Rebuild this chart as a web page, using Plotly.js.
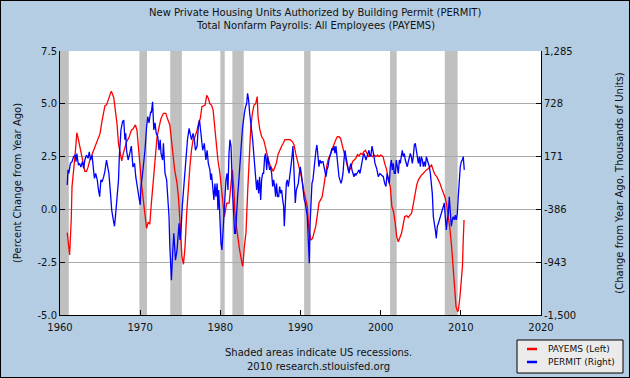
<!DOCTYPE html>
<html>
<head>
<meta charset="utf-8">
<script src="https://cdn.plot.ly/plotly-3.0.1.min.js"></script>
<style>
  html, body { margin: 0; padding: 0; background: #b4cde3; }
  #wrap { position: relative; width: 630px; height: 378px; }
  #chart { width: 630px; height: 378px; }
  #frame { position: absolute; left: 0; top: 0; width: 630px; height: 378px; box-sizing: border-box; border: 1px solid #000; pointer-events: none; }
</style>
</head>
<body>
<div id="wrap"><div id="chart"></div><div id="frame"></div></div>
<script>
// ---- Data ----
const payemsName = "PAYEMS (Left)";
const permitName = "PERMIT (Right)";

const payemsYears = [1960.9,1961.0,1961.2,1961.4,1961.5,1961.9,1962.1,1962.3,1962.5,1962.7,1962.9,1963.1,1963.3,1963.5,1963.7,1964.0,1964.4,1964.7,1965.0,1965.2,1965.4,1965.6,1965.8,1966.0,1966.2,1966.4,1966.7,1966.9,1967.1,1967.3,1967.5,1967.7,1967.9,1968.1,1968.3,1968.6,1968.9,1969.1,1969.4,1969.6,1969.8,1970.0,1970.2,1970.4,1970.6,1970.8,1971.0,1971.2,1971.4,1971.6,1971.9,1972.1,1972.3,1972.6,1972.9,1973.2,1973.4,1973.7,1973.9,1974.1,1974.3,1974.6,1974.8,1975.0,1975.2,1975.4,1975.6,1975.8,1976.0,1976.2,1976.4,1976.6,1976.8,1977.1,1977.3,1977.5,1977.7,1977.9,1978.1,1978.3,1978.5,1978.7,1978.9,1979.1,1979.3,1979.5,1979.7,1979.95,1980.2,1980.4,1980.5,1980.66,1980.8,1981.1,1981.3,1981.5,1981.7,1981.8,1982.0,1982.2,1982.4,1982.7,1982.8,1983.0,1983.2,1983.4,1983.6,1983.8,1984.0,1984.2,1984.4,1984.6,1984.7,1984.9,1985.15,1985.4,1985.6,1985.8,1986.0,1986.2,1986.4,1986.6,1986.8,1987.0,1987.2,1987.4,1987.65,1987.85,1988.05,1988.4,1988.7,1989.0,1989.2,1989.4,1989.6,1989.8,1990.06,1990.2,1990.4,1990.6,1990.85,1991.05,1991.3,1991.5,1991.7,1991.9,1992.1,1992.3,1992.5,1992.7,1992.9,1993.1,1993.3,1993.5,1993.8,1994.0,1994.2,1994.4,1994.6,1994.8,1995.0,1995.2,1995.4,1995.6,1995.8,1996.0,1996.25,1996.5,1996.7,1996.9,1997.1,1997.3,1997.5,1997.7,1997.9,1998.1,1998.3,1998.5,1998.75,1998.95,1999.2,1999.4,1999.6,1999.8,2000.0,2000.3,2000.5,2000.75,2000.95,2001.2,2001.4,2001.6,2001.8,2002.0,2002.2,2002.4,2002.6,2002.8,2003.0,2003.25,2003.45,2003.65,2003.85,2004.05,2004.3,2004.5,2004.7,2004.9,2005.1,2005.3,2005.5,2005.7,2005.95,2006.15,2006.35,2006.6,2006.8,2007.0,2007.2,2007.4,2007.6,2007.8,2008.0,2008.2,2008.4,2008.6,2008.85,2009.05,2009.3,2009.4,2009.6,2009.7,2009.9,2010.0,2010.2,2010.3,2010.4];
const payemsValues = [-1.1,-1.6,-2.16,-0.5,1.08,2.65,3.63,3.3,2.9,2.5,2.2,1.8,1.8,2.0,2.3,2.6,3.0,3.3,3.6,4.1,4.5,4.9,4.95,5.2,5.4,5.6,5.3,4.8,4.1,3.1,2.65,2.3,2.65,3.0,3.2,3.4,3.75,3.8,4.0,3.75,3.0,2.0,1.08,0.3,-0.2,-0.9,-0.6,-0.7,0.3,1.23,2.34,3.4,3.8,4.3,4.55,4.55,4.3,4.0,3.3,2.65,1.87,1.23,0.45,-0.8,-2.2,-2.6,-1.76,-0.2,1.08,2.0,2.8,3.3,3.4,3.75,4.1,4.3,4.86,4.9,4.94,5.4,5.26,5.0,4.94,4.7,3.8,3.3,2.34,1.7,0.76,-0.04,-0.35,0.0,0.3,0.3,1.23,1.87,0.9,-0.04,-0.8,-1.45,-1.9,-2.55,-2.7,-1.76,-1.1,0.76,2.5,3.9,4.55,4.94,5.0,5.34,4.4,3.84,3.44,3.3,3.0,2.6,2.34,2.1,1.94,1.8,2.0,2.2,2.6,2.8,3.0,3.13,3.3,3.3,3.3,3.2,3.05,2.65,2.34,2.0,1.7,1.4,0.9,0.6,0.13,-0.98,-1.45,-1.37,-1.13,-0.8,-0.27,0.3,0.45,0.6,1.08,1.7,2.1,2.42,2.65,2.9,3.13,3.3,3.44,3.44,3.36,3.05,2.65,2.34,2.1,1.8,1.94,2.26,2.34,2.42,2.6,2.53,2.65,2.6,2.73,2.8,2.65,2.5,2.57,2.5,2.57,2.5,2.57,2.5,2.57,2.5,2.18,1.87,1.4,1.08,0.13,-0.1,-0.6,-1.3,-1.53,-1.37,-1.13,-0.74,-0.34,-0.3,-0.38,-0.27,-0.19,0.2,0.76,1.16,1.4,1.55,1.63,1.7,1.8,1.87,1.94,2.0,2.1,1.8,1.63,1.55,1.4,1.23,1.0,0.84,0.6,0.3,-0.19,-0.8,-1.76,-2.7,-3.97,-4.6,-4.84,-4.76,-4.1,-3.66,-2.7,-1.45,-0.5];

const permitYears = [1960.9,1961.0,1961.1,1961.3,1961.5,1961.7,1961.9,1962.0,1962.1,1962.3,1962.45,1962.6,1962.8,1962.95,1963.1,1963.3,1963.5,1963.65,1963.8,1964.0,1964.2,1964.3,1964.45,1964.65,1964.8,1964.95,1965.1,1965.25,1965.45,1965.6,1965.8,1966.0,1966.1,1966.3,1966.45,1966.65,1966.8,1966.95,1967.1,1967.3,1967.4,1967.6,1967.8,1967.95,1968.1,1968.2,1968.3,1968.5,1968.7,1968.9,1969.1,1969.3,1969.45,1969.6,1969.8,1970.0,1970.1,1970.3,1970.45,1970.6,1970.8,1970.95,1971.1,1971.3,1971.4,1971.55,1971.7,1971.85,1972.0,1972.2,1972.35,1972.5,1972.6,1972.8,1972.9,1973.1,1973.3,1973.45,1973.6,1973.7,1973.85,1973.9,1974.05,1974.2,1974.3,1974.4,1974.6,1974.7,1974.85,1974.97,1975.1,1975.25,1975.4,1975.6,1975.75,1975.9,1976.1,1976.25,1976.4,1976.6,1976.75,1976.9,1977.1,1977.25,1977.4,1977.55,1977.7,1977.8,1978.0,1978.2,1978.35,1978.5,1978.7,1978.8,1978.9,1979.1,1979.2,1979.33,1979.45,1979.6,1979.7,1979.8,1979.95,1980.08,1980.2,1980.33,1980.45,1980.58,1980.7,1980.83,1980.95,1981.08,1981.2,1981.33,1981.4,1981.53,1981.66,1981.78,1981.9,1982.0,1982.15,1982.28,1982.4,1982.53,1982.66,1982.78,1982.9,1983.03,1983.15,1983.28,1983.4,1983.53,1983.66,1983.78,1983.9,1984.03,1984.15,1984.28,1984.4,1984.53,1984.65,1984.78,1984.9,1985.03,1985.15,1985.28,1985.4,1985.53,1985.65,1985.78,1985.9,1986.0,1986.15,1986.28,1986.4,1986.53,1986.65,1986.78,1986.9,1987.0,1987.15,1987.28,1987.4,1987.53,1987.65,1987.78,1987.9,1987.98,1988.1,1988.23,1988.35,1988.48,1988.6,1988.73,1988.85,1988.98,1989.06,1989.15,1989.23,1989.35,1989.48,1989.6,1989.73,1989.85,1989.97,1990.1,1990.22,1990.35,1990.47,1990.6,1990.72,1990.85,1990.97,1991.1,1991.18,1991.3,1991.43,1991.55,1991.68,1991.8,1991.93,1992.05,1992.18,1992.3,1992.43,1992.55,1992.68,1992.8,1992.93,1993.05,1993.18,1993.3,1993.43,1993.55,1993.68,1993.8,1993.93,1994.05,1994.18,1994.3,1994.42,1994.55,1994.68,1994.8,1994.92,1995.05,1995.17,1995.3,1995.42,1995.55,1995.67,1995.8,1995.92,1996.05,1996.17,1996.3,1996.42,1996.55,1996.67,1996.8,1996.92,1997.05,1997.17,1997.3,1997.42,1997.55,1997.67,1997.8,1997.92,1998.04,1998.17,1998.29,1998.42,1998.54,1998.67,1998.79,1998.92,1999.04,1999.17,1999.29,1999.5,1999.7,1999.9,2000.1,2000.33,2000.5,2000.66,2000.8,2000.95,2001.08,2001.2,2001.33,2001.45,2001.58,2001.7,2001.83,2001.95,2002.07,2002.2,2002.33,2002.45,2002.57,2002.7,2002.82,2002.95,2003.07,2003.2,2003.32,2003.45,2003.57,2003.7,2003.82,2003.95,2004.07,2004.2,2004.32,2004.45,2004.57,2004.7,2004.82,2004.95,2005.07,2005.2,2005.32,2005.45,2005.57,2005.7,2005.82,2005.94,2006.07,2006.2,2006.32,2006.44,2006.57,2006.69,2006.82,2006.94,2007.07,2007.2,2007.32,2007.44,2007.57,2007.7,2007.8,2007.94,2008.06,2008.19,2008.31,2008.44,2008.56,2008.69,2008.81,2008.94,2009.06,2009.19,2009.31,2009.43,2009.56,2009.68,2009.81,2009.93,2010.06,2010.18,2010.3,2010.4,2010.43];
const permitValues = [-128,31,-7,100,118,171,187,118,204,82,100,60,118,46,135,187,153,222,135,187,15,-58,-7,-74,-181,-252,-74,-96,-41,15,135,31,-7,-217,-393,-497,-564,-428,-304,-74,171,452,539,556,349,416,238,135,204,282,60,100,-41,-145,-234,-339,-145,-7,100,238,483,594,527,639,639,750,452,527,416,380,238,349,204,135,311,-7,-74,-286,-462,-778,-1025,-1132,-849,-638,-778,-921,-814,-709,-533,-709,-604,-357,-181,-7,204,349,470,416,349,416,349,238,282,483,556,438,349,238,311,135,238,100,31,-74,-7,-181,-286,-112,-252,-112,-393,-181,-564,-742,-814,-638,-393,-217,-74,-7,-181,204,349,282,-7,-217,-428,-638,-638,-428,-252,-112,64,238,349,483,594,646,697,728,839,768,628,556,452,349,238,135,-7,-181,-74,-217,-41,-286,-74,-7,-7,171,204,31,171,100,31,64,-7,-145,-74,-145,-252,-112,-252,-252,-145,-217,-181,-286,-357,-564,-217,-112,-74,-145,-74,-7,100,204,282,100,-112,-319,-181,-145,-112,-7,64,-7,-112,-217,-286,-319,-393,-462,-709,-954,-564,-252,-112,-74,64,135,238,294,171,64,135,100,118,118,64,-7,-41,31,64,135,171,204,260,238,282,204,282,171,31,-41,-74,-112,-74,-7,135,238,171,100,64,-7,64,100,31,-7,-41,-7,-23,-7,15,31,-7,64,135,171,204,171,135,171,204,238,171,187,282,238,171,100,46,-41,-7,-23,-41,-112,-145,-7,-74,-112,64,135,31,100,-7,-7,135,64,-7,135,100,171,238,171,204,135,100,64,118,171,204,171,100,171,294,311,238,171,100,171,64,171,135,64,118,64,171,135,100,64,-7,-112,-217,-462,-564,-604,-691,-564,-533,-497,-462,-428,-393,-357,-319,-462,-604,-497,-428,-252,-462,-564,-497,-462,-497,-446,-497,-428,-252,-74,64,118,135,171,64,31];

const recessionStarts = [1960.0, 1969.9, 1973.75, 1980.0, 1981.5, 1990.45, 2001.17, 2008.0];
const recessionEnds   = [1961.1, 1970.85, 1975.2, 1980.55, 1982.92, 1991.25, 2002.0, 2009.6];

const xTickVals = [1960, 1970, 1980, 1990, 2000, 2010, 2020];
const leftTickVals = [-5, -2.5, 0, 2.5, 5, 7.5];
const leftTickText = ["-5.0", "-2.5", "0.0", "2.5", "5.0", "7.5"];
const rightTickVals = [-1500, -943, -386, 171, 728, 1285];
const rightTickText = ["-1,500", "-943", "-386", "171", "728", "1,285"];

const titleLines = ["New Private Housing Units Authorized by Building Permit (PERMIT)", "Total Nonfarm Payrolls: All Employees (PAYEMS)"];
const noteLines = ["Shaded areas indicate US recessions.", "2010 research.stlouisfed.org"];

// ---- Chart ----
const FONT = "DejaVu Sans, Verdana, sans-serif";
const TXT = "#111111";

const traces = [
  { x: payemsYears, y: payemsValues, name: payemsName, type: "scatter", mode: "lines",
    line: { color: "#ff0000", width: 1.3 }, yaxis: "y", showlegend: false, hoverinfo: "skip" },
  { x: permitYears, y: permitValues, name: permitName, type: "scatter", mode: "lines",
    line: { color: "#0000ff", width: 1.3 }, yaxis: "y2", showlegend: false, hoverinfo: "skip" }
];

const shapes = recessionStarts.map((s, i) => ({
  type: "rect", xref: "x", yref: "paper", x0: s, x1: recessionEnds[i], y0: 0, y1: 1,
  fillcolor: "#c0c0c0", line: { width: 0 }, layer: "between"
}));

// custom legend box (paper coords relative to plot area 60..541 x 51..315)
const PW = 481, PH = 264, L0 = 60, T0 = 51;
const px = v => (v - L0) / PW;
const py = v => (T0 + PH - v) / PH;
shapes.push({ type: "rect", xref: "paper", yref: "paper", x0: px(517), x1: px(623), y0: py(340), y1: py(373),
  fillcolor: "#ebebeb", line: { color: "#000", width: 1 }, layer: "above" });
shapes.push({ type: "line", xref: "paper", yref: "paper", x0: px(527), x1: px(537), y0: py(349), y1: py(349),
  line: { color: "#ff0000", width: 2.5 }, layer: "above" });
shapes.push({ type: "line", xref: "paper", yref: "paper", x0: px(527), x1: px(537), y0: py(362), y1: py(362),
  line: { color: "#0000ff", width: 2.5 }, layer: "above" });

const annotations = [
  { text: titleLines[0], xref: "paper", yref: "paper", x: px(315), y: py(12), showarrow: false,
    font: { family: FONT, size: 10, color: TXT }, xanchor: "center", yanchor: "middle" },
  { text: titleLines[1], xref: "paper", yref: "paper", x: px(315), y: py(25), showarrow: false,
    font: { family: FONT, size: 10, color: TXT }, xanchor: "center", yanchor: "middle" },
  { text: noteLines[0], xref: "paper", yref: "paper", x: px(318), y: py(352), showarrow: false,
    font: { family: FONT, size: 10, color: TXT }, xanchor: "center", yanchor: "middle" },
  { text: noteLines[1], xref: "paper", yref: "paper", x: px(318), y: py(366), showarrow: false,
    font: { family: FONT, size: 10, color: TXT }, xanchor: "center", yanchor: "middle" },
  { text: payemsName, xref: "paper", yref: "paper", x: px(546), y: py(349), showarrow: false,
    font: { family: FONT, size: 9, color: TXT }, xanchor: "left", yanchor: "middle" },
  { text: permitName, xref: "paper", yref: "paper", x: px(546), y: py(362), showarrow: false,
    font: { family: FONT, size: 9, color: TXT }, xanchor: "left", yanchor: "middle" }
];

const layout = {
  width: 630, height: 378,
  paper_bgcolor: "#b4cde3", plot_bgcolor: "#ffffff",
  margin: { l: 60, r: 89, t: 51, b: 63, pad: 0 },
  showlegend: false,
  font: { family: FONT, size: 10, color: TXT },
  xaxis: { range: [1960, 2020], tickvals: xTickVals, ticktext: xTickVals.map(String),
    ticks: "inside", ticklen: 5, tickcolor: "#000", showline: true, linecolor: "#000", linewidth: 1,
    showgrid: false, zeroline: false, ticklabelstandoff: 3,
    tickfont: { family: FONT, size: 10, color: TXT }, fixedrange: true },
  yaxis: { range: [-5, 7.5], tickvals: leftTickVals, ticktext: leftTickText,
    ticks: "inside", ticklen: 5, tickcolor: "#000", showline: true, linecolor: "#000", linewidth: 1,
    showgrid: true, gridcolor: "#aaaaaa", gridwidth: 1, zeroline: false,
    tickfont: { family: FONT, size: 10, color: TXT }, automargin: false,
    title: { text: "(Percent Change from Year Ago)", font: { family: FONT, size: 10, color: TXT }, standoff: 13 } },
  yaxis2: { range: [-1500, 1285], tickvals: rightTickVals, ticktext: rightTickText,
    overlaying: "y", side: "right",
    ticks: "inside", ticklen: 5, tickcolor: "#000", showline: true, linecolor: "#000", linewidth: 1,
    showgrid: false, zeroline: false, tickfont: { family: FONT, size: 10, color: TXT }, automargin: false,
    title: { text: "(Change from Year Ago, Thousands of Units)", font: { family: FONT, size: 10, color: TXT }, standoff: 40 } },
  shapes: shapes,
  annotations: annotations
};

Plotly.newPlot("chart", traces, layout, { staticPlot: true, displayModeBar: false });
</script>
</body>
</html>
